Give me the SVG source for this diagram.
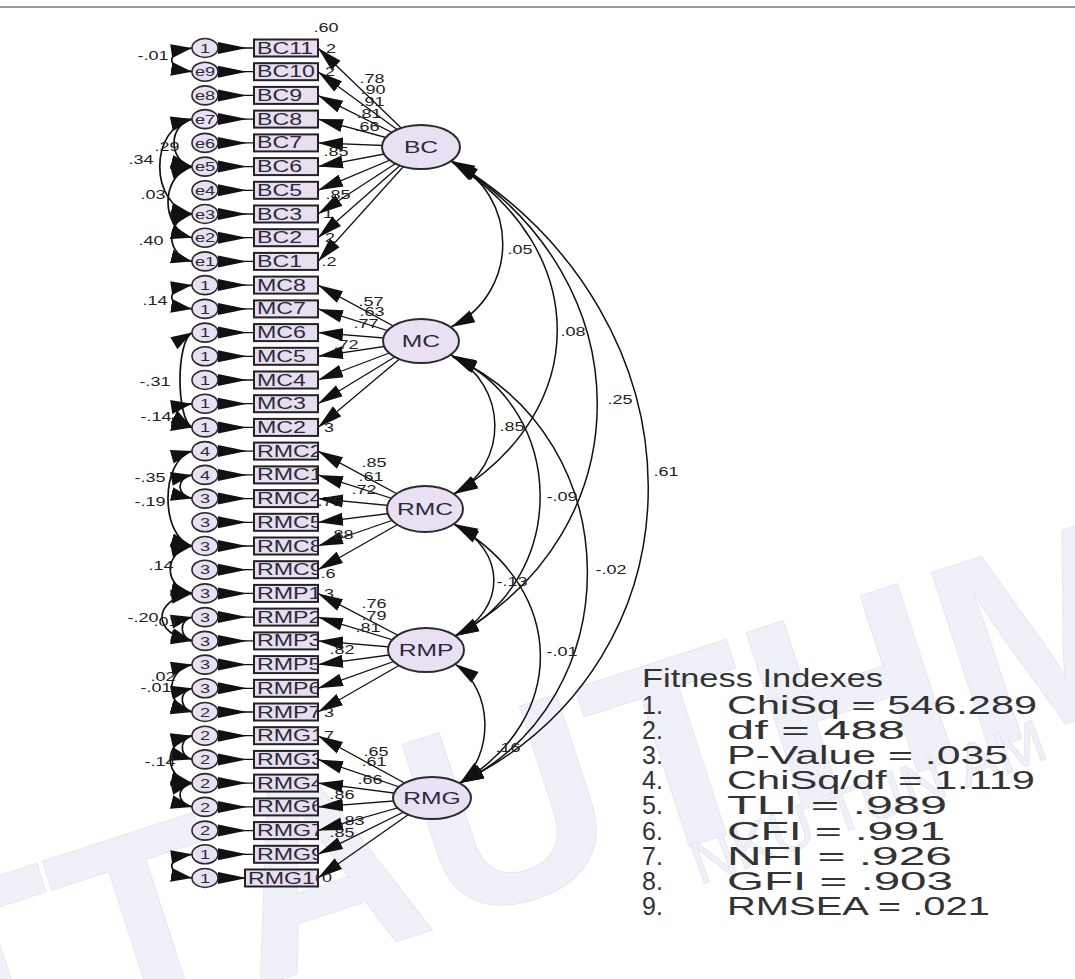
<svg xmlns="http://www.w3.org/2000/svg" width="1075" height="979" viewBox="0 0 1075 979">
<defs>
<style>
.lat{fill:#e9e1f3;stroke:#2b2b2b;stroke-width:2}
.box{fill:#e8def0;stroke:#222;stroke-width:2}
.err{fill:#e9e1f3;stroke:#2b2b2b;stroke-width:1.6}
.ln{stroke:#111;stroke-width:1.3;fill:none}
.cv{stroke:#111;stroke-width:1.5;fill:none}
.cl{stroke:#111;stroke-width:1.7;fill:none}
.t{font-family:"Liberation Sans",Arial,sans-serif;fill:#222}
.lb{font-size:12px;text-anchor:middle}
.el{font-size:13px;text-anchor:middle;fill:#2a2a3a}
.bx{font-size:16px;fill:#2a2a3a}
.ll{font-size:17px;text-anchor:middle;fill:#2a2a3a}
.fi{font-family:"Liberation Sans",Arial,sans-serif;font-size:25px;fill:#333}
.wm{font-family:"Liberation Sans",Arial,sans-serif;fill:#f0f0f9;stroke:#e6e6f3;stroke-width:1}
.wb{font-size:270px;font-weight:bold}
.ws{font-size:60px}
</style>
<marker id="ah" markerUnits="userSpaceOnUse" markerWidth="26" markerHeight="14" refX="25" refY="7" orient="auto"><path d="M0,0.5 L25,7 L0,13.5 Z" fill="#111"/></marker>
<marker id="eh" markerUnits="userSpaceOnUse" markerWidth="30" markerHeight="14" refX="0" refY="7" orient="auto"><path d="M0,1 L29,7 L0,13 Z" fill="#111"/></marker>
<marker id="ce" markerUnits="userSpaceOnUse" markerWidth="25" markerHeight="14" refX="24" refY="7" orient="auto"><path d="M0,0.5 L24,7 L0,13.5 Z" fill="#111"/></marker>
<marker id="cs" markerUnits="userSpaceOnUse" markerWidth="25" markerHeight="14" refX="0" refY="7" orient="auto"><path d="M24,0.5 L0,7 L24,13.5 Z" fill="#111"/></marker>
<marker id="ale" markerUnits="userSpaceOnUse" markerWidth="22" markerHeight="15" refX="21" refY="7.5" orient="auto"><path d="M0,0.5 L21,7.5 L0,14.5 Z" fill="#111"/></marker>
<marker id="als" markerUnits="userSpaceOnUse" markerWidth="22" markerHeight="15" refX="0" refY="7.5" orient="auto"><path d="M21,0.5 L0,7.5 L21,14.5 Z" fill="#111"/></marker>
</defs>
<rect x="0" y="0" width="1075" height="979" fill="#ffffff"/>
<line x1="0" y1="7" x2="1075" y2="7" stroke="#9a9a9a" stroke-width="2"/>

<g id="watermark">
<g transform="translate(-60,1090) rotate(-18)">
<text class="wm wb" x="0" y="0">T</text>
<text class="wm wb" x="165" y="0">T</text>
<text class="wm wb" x="330" y="0">A</text>
<text class="wm wb" x="530" y="0">U</text>
<text class="wm wb" x="725" y="0">T</text>
<text class="wm wb" x="890" y="0">H</text>
<text class="wm wb" x="1085" y="0">M</text>
</g>
<g transform="translate(700,885) rotate(-20)">
<text class="wm ws" x="0" y="0">N</text>
<text class="wm ws" x="43" y="0">K</text>
<text class="wm ws" x="83" y="0">U</text>
<text class="wm ws" x="143" y="0">T</text>
<text class="wm ws" x="180" y="0">U</text>
<text class="wm ws" x="223" y="0">N</text>
<text class="wm ws" x="283" y="0">A</text>
<text class="wm ws" x="323" y="0">M</text>
</g>
</g>

<g id="connectors">
<line class="ln" x1="421" y1="147" x2="318" y2="48" marker-end="url(#ah)"/>
<line class="ln" x1="421" y1="147" x2="318" y2="71.7" marker-end="url(#ah)"/>
<line class="ln" x1="421" y1="147" x2="318" y2="95.4" marker-end="url(#ah)"/>
<line class="ln" x1="421" y1="147" x2="318" y2="119.1" marker-end="url(#ah)"/>
<line class="ln" x1="421" y1="147" x2="318" y2="142.9" marker-end="url(#ah)"/>
<line class="ln" x1="421" y1="147" x2="318" y2="166.6" marker-end="url(#ah)"/>
<line class="ln" x1="421" y1="147" x2="318" y2="190.3" marker-end="url(#ah)"/>
<line class="ln" x1="421" y1="147" x2="318" y2="214" marker-end="url(#ah)"/>
<line class="ln" x1="421" y1="147" x2="318" y2="237.7" marker-end="url(#ah)"/>
<line class="ln" x1="421" y1="147" x2="318" y2="261.4" marker-end="url(#ah)"/>
<line class="ln" x1="421" y1="341" x2="318" y2="285.1" marker-end="url(#ah)"/>
<line class="ln" x1="421" y1="341" x2="318" y2="308.9" marker-end="url(#ah)"/>
<line class="ln" x1="421" y1="341" x2="318" y2="332.6" marker-end="url(#ah)"/>
<line class="ln" x1="421" y1="341" x2="318" y2="356.3" marker-end="url(#ah)"/>
<line class="ln" x1="421" y1="341" x2="318" y2="380" marker-end="url(#ah)"/>
<line class="ln" x1="421" y1="341" x2="318" y2="403.7" marker-end="url(#ah)"/>
<line class="ln" x1="421" y1="341" x2="318" y2="427.4" marker-end="url(#ah)"/>
<line class="ln" x1="425" y1="509" x2="318" y2="451.1" marker-end="url(#ah)"/>
<line class="ln" x1="425" y1="509" x2="318" y2="474.9" marker-end="url(#ah)"/>
<line class="ln" x1="425" y1="509" x2="318" y2="498.6" marker-end="url(#ah)"/>
<line class="ln" x1="425" y1="509" x2="318" y2="522.3" marker-end="url(#ah)"/>
<line class="ln" x1="425" y1="509" x2="318" y2="546" marker-end="url(#ah)"/>
<line class="ln" x1="425" y1="509" x2="318" y2="569.7" marker-end="url(#ah)"/>
<line class="ln" x1="426" y1="650" x2="318" y2="593.4" marker-end="url(#ah)"/>
<line class="ln" x1="426" y1="650" x2="318" y2="617.1" marker-end="url(#ah)"/>
<line class="ln" x1="426" y1="650" x2="318" y2="640.9" marker-end="url(#ah)"/>
<line class="ln" x1="426" y1="650" x2="318" y2="664.6" marker-end="url(#ah)"/>
<line class="ln" x1="426" y1="650" x2="318" y2="688.3" marker-end="url(#ah)"/>
<line class="ln" x1="426" y1="650" x2="318" y2="712" marker-end="url(#ah)"/>
<line class="ln" x1="432" y1="798" x2="318" y2="735.7" marker-end="url(#ah)"/>
<line class="ln" x1="432" y1="798" x2="318" y2="759.4" marker-end="url(#ah)"/>
<line class="ln" x1="432" y1="798" x2="318" y2="783.1" marker-end="url(#ah)"/>
<line class="ln" x1="432" y1="798" x2="318" y2="806.9" marker-end="url(#ah)"/>
<line class="ln" x1="432" y1="798" x2="318" y2="830.6" marker-end="url(#ah)"/>
<line class="ln" x1="432" y1="798" x2="318" y2="854.3" marker-end="url(#ah)"/>
<line class="ln" x1="432" y1="798" x2="318" y2="878" marker-end="url(#ah)"/>

<line class="ln" x1="218" y1="48" x2="254" y2="48" marker-start="url(#eh)"/>
<line class="ln" x1="218" y1="71.7" x2="254" y2="71.7" marker-start="url(#eh)"/>
<line class="ln" x1="218" y1="95.4" x2="254" y2="95.4" marker-start="url(#eh)"/>
<line class="ln" x1="218" y1="119.1" x2="254" y2="119.1" marker-start="url(#eh)"/>
<line class="ln" x1="218" y1="142.9" x2="254" y2="142.9" marker-start="url(#eh)"/>
<line class="ln" x1="218" y1="166.6" x2="254" y2="166.6" marker-start="url(#eh)"/>
<line class="ln" x1="218" y1="190.3" x2="254" y2="190.3" marker-start="url(#eh)"/>
<line class="ln" x1="218" y1="214" x2="254" y2="214" marker-start="url(#eh)"/>
<line class="ln" x1="218" y1="237.7" x2="254" y2="237.7" marker-start="url(#eh)"/>
<line class="ln" x1="218" y1="261.4" x2="254" y2="261.4" marker-start="url(#eh)"/>
<line class="ln" x1="218" y1="285.1" x2="254" y2="285.1" marker-start="url(#eh)"/>
<line class="ln" x1="218" y1="308.9" x2="254" y2="308.9" marker-start="url(#eh)"/>
<line class="ln" x1="218" y1="332.6" x2="254" y2="332.6" marker-start="url(#eh)"/>
<line class="ln" x1="218" y1="356.3" x2="254" y2="356.3" marker-start="url(#eh)"/>
<line class="ln" x1="218" y1="380" x2="254" y2="380" marker-start="url(#eh)"/>
<line class="ln" x1="218" y1="403.7" x2="254" y2="403.7" marker-start="url(#eh)"/>
<line class="ln" x1="218" y1="427.4" x2="254" y2="427.4" marker-start="url(#eh)"/>
<line class="ln" x1="218" y1="451.1" x2="254" y2="451.1" marker-start="url(#eh)"/>
<line class="ln" x1="218" y1="474.9" x2="254" y2="474.9" marker-start="url(#eh)"/>
<line class="ln" x1="218" y1="498.6" x2="254" y2="498.6" marker-start="url(#eh)"/>
<line class="ln" x1="218" y1="522.3" x2="254" y2="522.3" marker-start="url(#eh)"/>
<line class="ln" x1="218" y1="546" x2="254" y2="546" marker-start="url(#eh)"/>
<line class="ln" x1="218" y1="569.7" x2="254" y2="569.7" marker-start="url(#eh)"/>
<line class="ln" x1="218" y1="593.4" x2="254" y2="593.4" marker-start="url(#eh)"/>
<line class="ln" x1="218" y1="617.1" x2="254" y2="617.1" marker-start="url(#eh)"/>
<line class="ln" x1="218" y1="640.9" x2="254" y2="640.9" marker-start="url(#eh)"/>
<line class="ln" x1="218" y1="664.6" x2="254" y2="664.6" marker-start="url(#eh)"/>
<line class="ln" x1="218" y1="688.3" x2="254" y2="688.3" marker-start="url(#eh)"/>
<line class="ln" x1="218" y1="712" x2="254" y2="712" marker-start="url(#eh)"/>
<line class="ln" x1="218" y1="735.7" x2="254" y2="735.7" marker-start="url(#eh)"/>
<line class="ln" x1="218" y1="759.4" x2="254" y2="759.4" marker-start="url(#eh)"/>
<line class="ln" x1="218" y1="783.1" x2="254" y2="783.1" marker-start="url(#eh)"/>
<line class="ln" x1="218" y1="806.9" x2="254" y2="806.9" marker-start="url(#eh)"/>
<line class="ln" x1="218" y1="830.6" x2="254" y2="830.6" marker-start="url(#eh)"/>
<line class="ln" x1="218" y1="854.3" x2="254" y2="854.3" marker-start="url(#eh)"/>
<line class="ln" x1="218" y1="878" x2="245" y2="878" marker-start="url(#eh)"/>

<path class="cv" d="M451,161 C520,195 520,293 451,327" marker-start="url(#cs)" marker-end="url(#ce)"/>
<path class="cv" d="M452,162 C592,250 592,410 454,494" marker-start="url(#cs)" marker-end="url(#ce)"/>
<path class="cv" d="M453,162 C645,280 645,530 455,636" marker-start="url(#cs)" marker-end="url(#ce)"/>
<path class="cv" d="M454,162 C712,320 712,660 460,783" marker-start="url(#cs)" marker-end="url(#ce)"/>
<path class="cv" d="M451,355 C509,385 509,465 454,494" marker-start="url(#cs)" marker-end="url(#ce)"/>
<path class="cv" d="M452,356 C569,410 569,580 455,636" marker-start="url(#cs)" marker-end="url(#ce)"/>
<path class="cv" d="M453,357 C631,440 631,700 460,783" marker-start="url(#cs)" marker-end="url(#ce)"/>
<path class="cv" d="M454,524 C507,550 507,610 455,636" marker-start="url(#cs)" marker-end="url(#ce)"/>
<path class="cv" d="M455,525 C568,590 568,720 460,783" marker-start="url(#cs)" marker-end="url(#ce)"/>
<path class="cv" d="M455,664 C494,690 494,755 460,783" marker-start="url(#cs)" marker-end="url(#ce)"/>

<path class="cl" d="M192,48 C165,52 165,68 192,71.7" marker-start="url(#als)" marker-end="url(#ale)"/>
<path class="cl" d="M192,119.1 C168,125 168,161 192,166.6" marker-start="url(#als)" marker-end="url(#ale)"/>
<path class="cl" d="M192,119.1 C149,128 149,205 192,214" marker-start="url(#als)" marker-end="url(#ale)"/>
<path class="cl" d="M192,166.6 C160,175 160,229 192,237.7" marker-start="url(#als)" marker-end="url(#ale)"/>
<path class="cl" d="M192,214 C165,220 165,255 192,261.4" marker-start="url(#als)" marker-end="url(#ale)"/>
<path class="cl" d="M192,285.1 C165,289 165,305 192,308.9" marker-start="url(#als)" marker-end="url(#ale)"/>
<path class="cl" d="M192,332.6 C176,342 176,418 192,427.4" marker-start="url(#als)" marker-end="url(#ale)"/>
<path class="cl" d="M192,403.7 C171,407 171,424 192,427.4" marker-start="url(#als)" marker-end="url(#ale)"/>
<path class="cl" d="M192,474.9 C176,478 176,495 192,498.6" marker-start="url(#als)" marker-end="url(#ale)"/>
<path class="cl" d="M192,451.1 C160,460 160,537 192,546" marker-start="url(#als)" marker-end="url(#ale)"/>
<path class="cl" d="M192,546 C163,552 163,587 192,593.4" marker-start="url(#als)" marker-end="url(#ale)"/>
<path class="cl" d="M192,593.4 C152,600 152,634 192,640.9" marker-start="url(#als)" marker-end="url(#ale)"/>
<path class="cl" d="M192,617.1 C179,620 179,637 192,640.9" marker-start="url(#als)" marker-end="url(#ale)"/>
<path class="cl" d="M192,664.6 C165,670 165,706 192,712" marker-start="url(#als)" marker-end="url(#ale)"/>
<path class="cl" d="M192,688.3 C179,691 179,708 192,712" marker-start="url(#als)" marker-end="url(#ale)"/>
<path class="cl" d="M192,735.7 C163,742 163,777 192,783.1" marker-start="url(#als)" marker-end="url(#ale)"/>
<path class="cl" d="M192,735.7 C179,739 179,756 192,759.4" marker-start="url(#als)" marker-end="url(#ale)"/>
<path class="cl" d="M192,783.1 C176,787 176,803 192,806.9" marker-start="url(#als)" marker-end="url(#ale)"/>
<path class="cl" d="M192,854.3 C165,858 165,874 192,878" marker-start="url(#als)" marker-end="url(#ale)"/>
</g>

<g id="e10"><ellipse class="err" cx="205" cy="48" rx="13" ry="9.5"/><text class="t el" transform="matrix(1.4 0 0 1 205 52.6)">1</text></g>
<g id="e9"><ellipse class="err" cx="205" cy="71.7" rx="13" ry="9.5"/><text class="t el" transform="matrix(1.4 0 0 1 205 76.3)">e9</text></g>
<g id="e8"><ellipse class="err" cx="205" cy="95.4" rx="13" ry="9.5"/><text class="t el" transform="matrix(1.4 0 0 1 205 100)">e8</text></g>
<g id="e7"><ellipse class="err" cx="205" cy="119.1" rx="13" ry="9.5"/><text class="t el" transform="matrix(1.4 0 0 1 205 123.7)">e7</text></g>
<g id="e6"><ellipse class="err" cx="205" cy="142.9" rx="13" ry="9.5"/><text class="t el" transform="matrix(1.4 0 0 1 205 147.5)">e6</text></g>
<g id="e5"><ellipse class="err" cx="205" cy="166.6" rx="13" ry="9.5"/><text class="t el" transform="matrix(1.4 0 0 1 205 171.2)">e5</text></g>
<g id="e4"><ellipse class="err" cx="205" cy="190.3" rx="13" ry="9.5"/><text class="t el" transform="matrix(1.4 0 0 1 205 194.9)">e4</text></g>
<g id="e3"><ellipse class="err" cx="205" cy="214" rx="13" ry="9.5"/><text class="t el" transform="matrix(1.4 0 0 1 205 218.6)">e3</text></g>
<g id="e2"><ellipse class="err" cx="205" cy="237.7" rx="13" ry="9.5"/><text class="t el" transform="matrix(1.4 0 0 1 205 242.3)">e2</text></g>
<g id="e1"><ellipse class="err" cx="205" cy="261.4" rx="13" ry="9.5"/><text class="t el" transform="matrix(1.4 0 0 1 205 266)">e1</text></g>
<g id="e-mc8"><ellipse class="err" cx="205" cy="285.1" rx="13" ry="9.5"/><text class="t el" transform="matrix(1.4 0 0 1 205 289.7)">1</text></g>
<g id="e-mc7"><ellipse class="err" cx="205" cy="308.9" rx="13" ry="9.5"/><text class="t el" transform="matrix(1.4 0 0 1 205 313.5)">1</text></g>
<g id="e-mc6"><ellipse class="err" cx="205" cy="332.6" rx="13" ry="9.5"/><text class="t el" transform="matrix(1.4 0 0 1 205 337.2)">1</text></g>
<g id="e-mc5"><ellipse class="err" cx="205" cy="356.3" rx="13" ry="9.5"/><text class="t el" transform="matrix(1.4 0 0 1 205 360.9)">1</text></g>
<g id="e-mc4"><ellipse class="err" cx="205" cy="380" rx="13" ry="9.5"/><text class="t el" transform="matrix(1.4 0 0 1 205 384.6)">1</text></g>
<g id="e-mc3"><ellipse class="err" cx="205" cy="403.7" rx="13" ry="9.5"/><text class="t el" transform="matrix(1.4 0 0 1 205 408.3)">1</text></g>
<g id="e-mc2"><ellipse class="err" cx="205" cy="427.4" rx="13" ry="9.5"/><text class="t el" transform="matrix(1.4 0 0 1 205 432)">1</text></g>
<g id="e-rmc2"><ellipse class="err" cx="205" cy="451.1" rx="13" ry="9.5"/><text class="t el" transform="matrix(1.4 0 0 1 205 455.7)">4</text></g>
<g id="e-rmc1"><ellipse class="err" cx="205" cy="474.9" rx="13" ry="9.5"/><text class="t el" transform="matrix(1.4 0 0 1 205 479.5)">4</text></g>
<g id="e-rmc4"><ellipse class="err" cx="205" cy="498.6" rx="13" ry="9.5"/><text class="t el" transform="matrix(1.4 0 0 1 205 503.2)">3</text></g>
<g id="e-rmc5"><ellipse class="err" cx="205" cy="522.3" rx="13" ry="9.5"/><text class="t el" transform="matrix(1.4 0 0 1 205 526.9)">3</text></g>
<g id="e-rmc8"><ellipse class="err" cx="205" cy="546" rx="13" ry="9.5"/><text class="t el" transform="matrix(1.4 0 0 1 205 550.6)">3</text></g>
<g id="e-rmc9"><ellipse class="err" cx="205" cy="569.7" rx="13" ry="9.5"/><text class="t el" transform="matrix(1.4 0 0 1 205 574.3)">3</text></g>
<g id="e-rmp1"><ellipse class="err" cx="205" cy="593.4" rx="13" ry="9.5"/><text class="t el" transform="matrix(1.4 0 0 1 205 598)">3</text></g>
<g id="e-rmp2"><ellipse class="err" cx="205" cy="617.1" rx="13" ry="9.5"/><text class="t el" transform="matrix(1.4 0 0 1 205 621.7)">3</text></g>
<g id="e-rmp3"><ellipse class="err" cx="205" cy="640.9" rx="13" ry="9.5"/><text class="t el" transform="matrix(1.4 0 0 1 205 645.5)">3</text></g>
<g id="e-rmp5"><ellipse class="err" cx="205" cy="664.6" rx="13" ry="9.5"/><text class="t el" transform="matrix(1.4 0 0 1 205 669.2)">3</text></g>
<g id="e-rmp6"><ellipse class="err" cx="205" cy="688.3" rx="13" ry="9.5"/><text class="t el" transform="matrix(1.4 0 0 1 205 692.9)">3</text></g>
<g id="e-rmp7"><ellipse class="err" cx="205" cy="712" rx="13" ry="9.5"/><text class="t el" transform="matrix(1.4 0 0 1 205 716.6)">2</text></g>
<g id="e-rmg1"><ellipse class="err" cx="205" cy="735.7" rx="13" ry="9.5"/><text class="t el" transform="matrix(1.4 0 0 1 205 740.3)">2</text></g>
<g id="e-rmg3"><ellipse class="err" cx="205" cy="759.4" rx="13" ry="9.5"/><text class="t el" transform="matrix(1.4 0 0 1 205 764)">2</text></g>
<g id="e-rmg4"><ellipse class="err" cx="205" cy="783.1" rx="13" ry="9.5"/><text class="t el" transform="matrix(1.4 0 0 1 205 787.7)">2</text></g>
<g id="e-rmg6"><ellipse class="err" cx="205" cy="806.9" rx="13" ry="9.5"/><text class="t el" transform="matrix(1.4 0 0 1 205 811.5)">2</text></g>
<g id="e-rmg7"><ellipse class="err" cx="205" cy="830.6" rx="13" ry="9.5"/><text class="t el" transform="matrix(1.4 0 0 1 205 835.2)">2</text></g>
<g id="e-rmg9"><ellipse class="err" cx="205" cy="854.3" rx="13" ry="9.5"/><text class="t el" transform="matrix(1.4 0 0 1 205 858.9)">1</text></g>
<g id="e-rmg10"><ellipse class="err" cx="205" cy="878" rx="13" ry="9.5"/><text class="t el" transform="matrix(1.4 0 0 1 205 882.6)">1</text></g>

<g id="BC11"><rect class="box" x="254" y="39.5" width="64" height="17"/><svg x="254" y="39.5" width="64" height="17"><text class="t bx" transform="matrix(1.45 0 0 1 3 14)">BC11</text></svg></g>
<g id="BC10"><rect class="box" x="254" y="63.2" width="64" height="17"/><svg x="254" y="63.2" width="64" height="17"><text class="t bx" transform="matrix(1.45 0 0 1 3 14)">BC10</text></svg></g>
<g id="BC9"><rect class="box" x="254" y="86.9" width="64" height="17"/><svg x="254" y="86.9" width="64" height="17"><text class="t bx" transform="matrix(1.45 0 0 1 3 14)">BC9</text></svg></g>
<g id="BC8"><rect class="box" x="254" y="110.6" width="64" height="17"/><svg x="254" y="110.6" width="64" height="17"><text class="t bx" transform="matrix(1.45 0 0 1 3 14)">BC8</text></svg></g>
<g id="BC7"><rect class="box" x="254" y="134.4" width="64" height="17"/><svg x="254" y="134.4" width="64" height="17"><text class="t bx" transform="matrix(1.45 0 0 1 3 14)">BC7</text></svg></g>
<g id="BC6"><rect class="box" x="254" y="158.1" width="64" height="17"/><svg x="254" y="158.1" width="64" height="17"><text class="t bx" transform="matrix(1.45 0 0 1 3 14)">BC6</text></svg></g>
<g id="BC5"><rect class="box" x="254" y="181.8" width="64" height="17"/><svg x="254" y="181.8" width="64" height="17"><text class="t bx" transform="matrix(1.45 0 0 1 3 14)">BC5</text></svg></g>
<g id="BC3"><rect class="box" x="254" y="205.5" width="64" height="17"/><svg x="254" y="205.5" width="64" height="17"><text class="t bx" transform="matrix(1.45 0 0 1 3 14)">BC3</text></svg></g>
<g id="BC2"><rect class="box" x="254" y="229.2" width="64" height="17"/><svg x="254" y="229.2" width="64" height="17"><text class="t bx" transform="matrix(1.45 0 0 1 3 14)">BC2</text></svg></g>
<g id="BC1"><rect class="box" x="254" y="252.9" width="64" height="17"/><svg x="254" y="252.9" width="64" height="17"><text class="t bx" transform="matrix(1.45 0 0 1 3 14)">BC1</text></svg></g>
<g id="MC8"><rect class="box" x="254" y="276.6" width="64" height="17"/><svg x="254" y="276.6" width="64" height="17"><text class="t bx" transform="matrix(1.45 0 0 1 3 14)">MC8</text></svg></g>
<g id="MC7"><rect class="box" x="254" y="300.4" width="64" height="17"/><svg x="254" y="300.4" width="64" height="17"><text class="t bx" transform="matrix(1.45 0 0 1 3 14)">MC7</text></svg></g>
<g id="MC6"><rect class="box" x="254" y="324.1" width="64" height="17"/><svg x="254" y="324.1" width="64" height="17"><text class="t bx" transform="matrix(1.45 0 0 1 3 14)">MC6</text></svg></g>
<g id="MC5"><rect class="box" x="254" y="347.8" width="64" height="17"/><svg x="254" y="347.8" width="64" height="17"><text class="t bx" transform="matrix(1.45 0 0 1 3 14)">MC5</text></svg></g>
<g id="MC4"><rect class="box" x="254" y="371.5" width="64" height="17"/><svg x="254" y="371.5" width="64" height="17"><text class="t bx" transform="matrix(1.45 0 0 1 3 14)">MC4</text></svg></g>
<g id="MC3"><rect class="box" x="254" y="395.2" width="64" height="17"/><svg x="254" y="395.2" width="64" height="17"><text class="t bx" transform="matrix(1.45 0 0 1 3 14)">MC3</text></svg></g>
<g id="MC2"><rect class="box" x="254" y="418.9" width="64" height="17"/><svg x="254" y="418.9" width="64" height="17"><text class="t bx" transform="matrix(1.45 0 0 1 3 14)">MC2</text></svg></g>
<g id="RMC2"><rect class="box" x="254" y="442.6" width="64" height="17"/><svg x="254" y="442.6" width="64" height="17"><text class="t bx" transform="matrix(1.45 0 0 1 3 14)">RMC2</text></svg></g>
<g id="RMC1"><rect class="box" x="254" y="466.4" width="64" height="17"/><svg x="254" y="466.4" width="64" height="17"><text class="t bx" transform="matrix(1.45 0 0 1 3 14)">RMC1</text></svg></g>
<g id="RMC4"><rect class="box" x="254" y="490.1" width="64" height="17"/><svg x="254" y="490.1" width="64" height="17"><text class="t bx" transform="matrix(1.45 0 0 1 3 14)">RMC4</text></svg></g>
<g id="RMC5"><rect class="box" x="254" y="513.8" width="64" height="17"/><svg x="254" y="513.8" width="64" height="17"><text class="t bx" transform="matrix(1.45 0 0 1 3 14)">RMC5</text></svg></g>
<g id="RMC8"><rect class="box" x="254" y="537.5" width="64" height="17"/><svg x="254" y="537.5" width="64" height="17"><text class="t bx" transform="matrix(1.45 0 0 1 3 14)">RMC8</text></svg></g>
<g id="RMC9"><rect class="box" x="254" y="561.2" width="64" height="17"/><svg x="254" y="561.2" width="64" height="17"><text class="t bx" transform="matrix(1.45 0 0 1 3 14)">RMC9</text></svg></g>
<g id="RMP1"><rect class="box" x="254" y="584.9" width="64" height="17"/><svg x="254" y="584.9" width="64" height="17"><text class="t bx" transform="matrix(1.45 0 0 1 3 14)">RMP1</text></svg></g>
<g id="RMP2"><rect class="box" x="254" y="608.6" width="64" height="17"/><svg x="254" y="608.6" width="64" height="17"><text class="t bx" transform="matrix(1.45 0 0 1 3 14)">RMP2</text></svg></g>
<g id="RMP3"><rect class="box" x="254" y="632.4" width="64" height="17"/><svg x="254" y="632.4" width="64" height="17"><text class="t bx" transform="matrix(1.45 0 0 1 3 14)">RMP3</text></svg></g>
<g id="RMP5"><rect class="box" x="254" y="656.1" width="64" height="17"/><svg x="254" y="656.1" width="64" height="17"><text class="t bx" transform="matrix(1.45 0 0 1 3 14)">RMP5</text></svg></g>
<g id="RMP6"><rect class="box" x="254" y="679.8" width="64" height="17"/><svg x="254" y="679.8" width="64" height="17"><text class="t bx" transform="matrix(1.45 0 0 1 3 14)">RMP6</text></svg></g>
<g id="RMP7"><rect class="box" x="254" y="703.5" width="64" height="17"/><svg x="254" y="703.5" width="64" height="17"><text class="t bx" transform="matrix(1.45 0 0 1 3 14)">RMP7</text></svg></g>
<g id="RMG1"><rect class="box" x="254" y="727.2" width="64" height="17"/><svg x="254" y="727.2" width="64" height="17"><text class="t bx" transform="matrix(1.45 0 0 1 3 14)">RMG1</text></svg></g>
<g id="RMG3"><rect class="box" x="254" y="750.9" width="64" height="17"/><svg x="254" y="750.9" width="64" height="17"><text class="t bx" transform="matrix(1.45 0 0 1 3 14)">RMG3</text></svg></g>
<g id="RMG4"><rect class="box" x="254" y="774.6" width="64" height="17"/><svg x="254" y="774.6" width="64" height="17"><text class="t bx" transform="matrix(1.45 0 0 1 3 14)">RMG4</text></svg></g>
<g id="RMG6"><rect class="box" x="254" y="798.4" width="64" height="17"/><svg x="254" y="798.4" width="64" height="17"><text class="t bx" transform="matrix(1.45 0 0 1 3 14)">RMG6</text></svg></g>
<g id="RMG7"><rect class="box" x="254" y="822.1" width="64" height="17"/><svg x="254" y="822.1" width="64" height="17"><text class="t bx" transform="matrix(1.45 0 0 1 3 14)">RMG7</text></svg></g>
<g id="RMG9"><rect class="box" x="254" y="845.8" width="64" height="17"/><svg x="254" y="845.8" width="64" height="17"><text class="t bx" transform="matrix(1.45 0 0 1 3 14)">RMG9</text></svg></g>
<g id="RMG10"><rect class="box" x="245" y="869.5" width="73" height="17"/><svg x="245" y="869.5" width="73" height="17"><text class="t bx" transform="matrix(1.45 0 0 1 3 14)">RMG10</text></svg></g>

<g id="BC"><ellipse class="lat" cx="421" cy="147" rx="39" ry="22"/><text class="t ll" transform="matrix(1.45 0 0 1 421 153)">BC</text></g>
<g id="MC"><ellipse class="lat" cx="421" cy="341" rx="38" ry="22"/><text class="t ll" transform="matrix(1.45 0 0 1 421 347)">MC</text></g>
<g id="RMC"><ellipse class="lat" cx="425" cy="509" rx="38" ry="23"/><text class="t ll" transform="matrix(1.45 0 0 1 425 515)">RMC</text></g>
<g id="RMP"><ellipse class="lat" cx="426" cy="650" rx="38" ry="22"/><text class="t ll" transform="matrix(1.45 0 0 1 426 656)">RMP</text></g>
<g id="RMG"><ellipse class="lat" cx="432" cy="798" rx="39" ry="21"/><text class="t ll" transform="matrix(1.45 0 0 1 432 804)">RMG</text></g>

<g id="labels">
<text class="t lb" transform="matrix(1.5 0 0 1 520 254)">.05</text>
<text class="t lb" transform="matrix(1.5 0 0 1 573 336)">.08</text>
<text class="t lb" transform="matrix(1.5 0 0 1 620 404)">.25</text>
<text class="t lb" transform="matrix(1.5 0 0 1 666 476)">.61</text>
<text class="t lb" transform="matrix(1.5 0 0 1 512 431)">.85</text>
<text class="t lb" transform="matrix(1.5 0 0 1 562 501)">-.09</text>
<text class="t lb" transform="matrix(1.5 0 0 1 611 574)">-.02</text>
<text class="t lb" transform="matrix(1.5 0 0 1 512 586)">-.13</text>
<text class="t lb" transform="matrix(1.5 0 0 1 562 656)">-.01</text>
<text class="t lb" transform="matrix(1.5 0 0 1 508 752)">.16</text>
<text class="t lb" transform="matrix(1.5 0 0 1 153 60)">-.01</text>
<text class="t lb" transform="matrix(1.5 0 0 1 167 151)">.29</text>
<text class="t lb" transform="matrix(1.5 0 0 1 141 164)">.34</text>
<text class="t lb" transform="matrix(1.5 0 0 1 153 199)">.03</text>
<text class="t lb" transform="matrix(1.5 0 0 1 151 245)">.40</text>
<text class="t lb" transform="matrix(1.5 0 0 1 155 305)">.14</text>
<text class="t lb" transform="matrix(1.5 0 0 1 155 386)">-.31</text>
<text class="t lb" transform="matrix(1.5 0 0 1 156 421)">-.14</text>
<text class="t lb" transform="matrix(1.5 0 0 1 150 482)">-.35</text>
<text class="t lb" transform="matrix(1.5 0 0 1 150 506)">-.19</text>
<text class="t lb" transform="matrix(1.5 0 0 1 161 570)">.14</text>
<text class="t lb" transform="matrix(1.5 0 0 1 143 622)">-.20</text>
<text class="t lb" transform="matrix(1.5 0 0 1 166 626)">.01</text>
<text class="t lb" transform="matrix(1.5 0 0 1 163 681)">.02</text>
<text class="t lb" transform="matrix(1.5 0 0 1 156 692)">-.01</text>
<text class="t lb" transform="matrix(1.5 0 0 1 160 766)">-.14</text>
<text class="t lb" transform="matrix(1.5 0 0 1 326 32)">.60</text>
<text class="t lb" transform="matrix(1.5 0 0 1 372 83)">.78</text>
<text class="t lb" transform="matrix(1.5 0 0 1 373 94)">.90</text>
<text class="t lb" transform="matrix(1.5 0 0 1 372 106)">.91</text>
<text class="t lb" transform="matrix(1.5 0 0 1 369 118)">.81</text>
<text class="t lb" transform="matrix(1.5 0 0 1 367 131)">.66</text>
<text class="t lb" transform="matrix(1.5 0 0 1 336 156)">.85</text>
<text class="t lb" transform="matrix(1.5 0 0 1 338 199)">.85</text>
<text class="t lb" transform="matrix(1.5 0 0 1 371 306)">.57</text>
<text class="t lb" transform="matrix(1.5 0 0 1 372 316)">.63</text>
<text class="t lb" transform="matrix(1.5 0 0 1 366 328)">.77</text>
<text class="t lb" transform="matrix(1.5 0 0 1 346 349)">.72</text>
<text class="t lb" transform="matrix(1.5 0 0 1 374 467)">.85</text>
<text class="t lb" transform="matrix(1.5 0 0 1 371 481)">.61</text>
<text class="t lb" transform="matrix(1.5 0 0 1 364 494)">.72</text>
<text class="t lb" transform="matrix(1.5 0 0 1 330 506)">.75</text>
<text class="t lb" transform="matrix(1.5 0 0 1 341 539)">.88</text>
<text class="t lb" transform="matrix(1.5 0 0 1 374 608)">.76</text>
<text class="t lb" transform="matrix(1.5 0 0 1 374 620)">.79</text>
<text class="t lb" transform="matrix(1.5 0 0 1 368 632)">.81</text>
<text class="t lb" transform="matrix(1.5 0 0 1 342 654)">.82</text>
<text class="t lb" transform="matrix(1.5 0 0 1 376 756)">.65</text>
<text class="t lb" transform="matrix(1.5 0 0 1 374 766)">.61</text>
<text class="t lb" transform="matrix(1.5 0 0 1 370 784)">.66</text>
<text class="t lb" transform="matrix(1.5 0 0 1 342 799)">.86</text>
<text class="t lb" transform="matrix(1.5 0 0 1 352 825)">.83</text>
<text class="t lb" transform="matrix(1.5 0 0 1 342 837)">.85</text>
<text class="t lb" transform="matrix(1.5 0 0 1 331 53)">2</text>
<text class="t lb" transform="matrix(1.5 0 0 1 330 76)">2</text>
<text class="t lb" transform="matrix(1.5 0 0 1 328 218)">1</text>
<text class="t lb" transform="matrix(1.5 0 0 1 330 242)">2</text>
<text class="t lb" transform="matrix(1.5 0 0 1 329 266)">.2</text>
<text class="t lb" transform="matrix(1.5 0 0 1 329 432)">3</text>
<text class="t lb" transform="matrix(1.5 0 0 1 328 578)">.6</text>
<text class="t lb" transform="matrix(1.5 0 0 1 329 598)">3</text>
<text class="t lb" transform="matrix(1.5 0 0 1 329 717)">3</text>
<text class="t lb" transform="matrix(1.5 0 0 1 329 740)">7</text>
<text class="t lb" transform="matrix(1.5 0 0 1 327 882)">0</text>
</g>

<g id="fitness">
<text class="fi" x="642" y="687" textLength="241" lengthAdjust="spacingAndGlyphs">Fitness Indexes</text>
<text class="fi" x="642" y="714">1.</text>
<text class="fi" x="642" y="739">2.</text>
<text class="fi" x="642" y="764">3.</text>
<text class="fi" x="642" y="789">4.</text>
<text class="fi" x="642" y="814">5.</text>
<text class="fi" x="642" y="840">6.</text>
<text class="fi" x="642" y="865">7.</text>
<text class="fi" x="642" y="890">8.</text>
<text class="fi" x="642" y="915">9.</text>
<text class="fi" x="727" y="714" textLength="310" lengthAdjust="spacingAndGlyphs">ChiSq = 546.289</text>
<text class="fi" x="727" y="739" textLength="178" lengthAdjust="spacingAndGlyphs">df = 488</text>
<text class="fi" x="727" y="764" textLength="281" lengthAdjust="spacingAndGlyphs">P-Value = .035</text>
<text class="fi" x="727" y="789" textLength="308" lengthAdjust="spacingAndGlyphs">ChiSq/df = 1.119</text>
<text class="fi" x="727" y="814" textLength="220" lengthAdjust="spacingAndGlyphs">TLI = .989</text>
<text class="fi" x="727" y="840" textLength="218" lengthAdjust="spacingAndGlyphs">CFI = .991</text>
<text class="fi" x="727" y="865" textLength="225" lengthAdjust="spacingAndGlyphs">NFI = .926</text>
<text class="fi" x="727" y="890" textLength="226" lengthAdjust="spacingAndGlyphs">GFI = .903</text>
<text class="fi" x="727" y="915" textLength="263" lengthAdjust="spacingAndGlyphs">RMSEA = .021</text>
</g>
</svg>
